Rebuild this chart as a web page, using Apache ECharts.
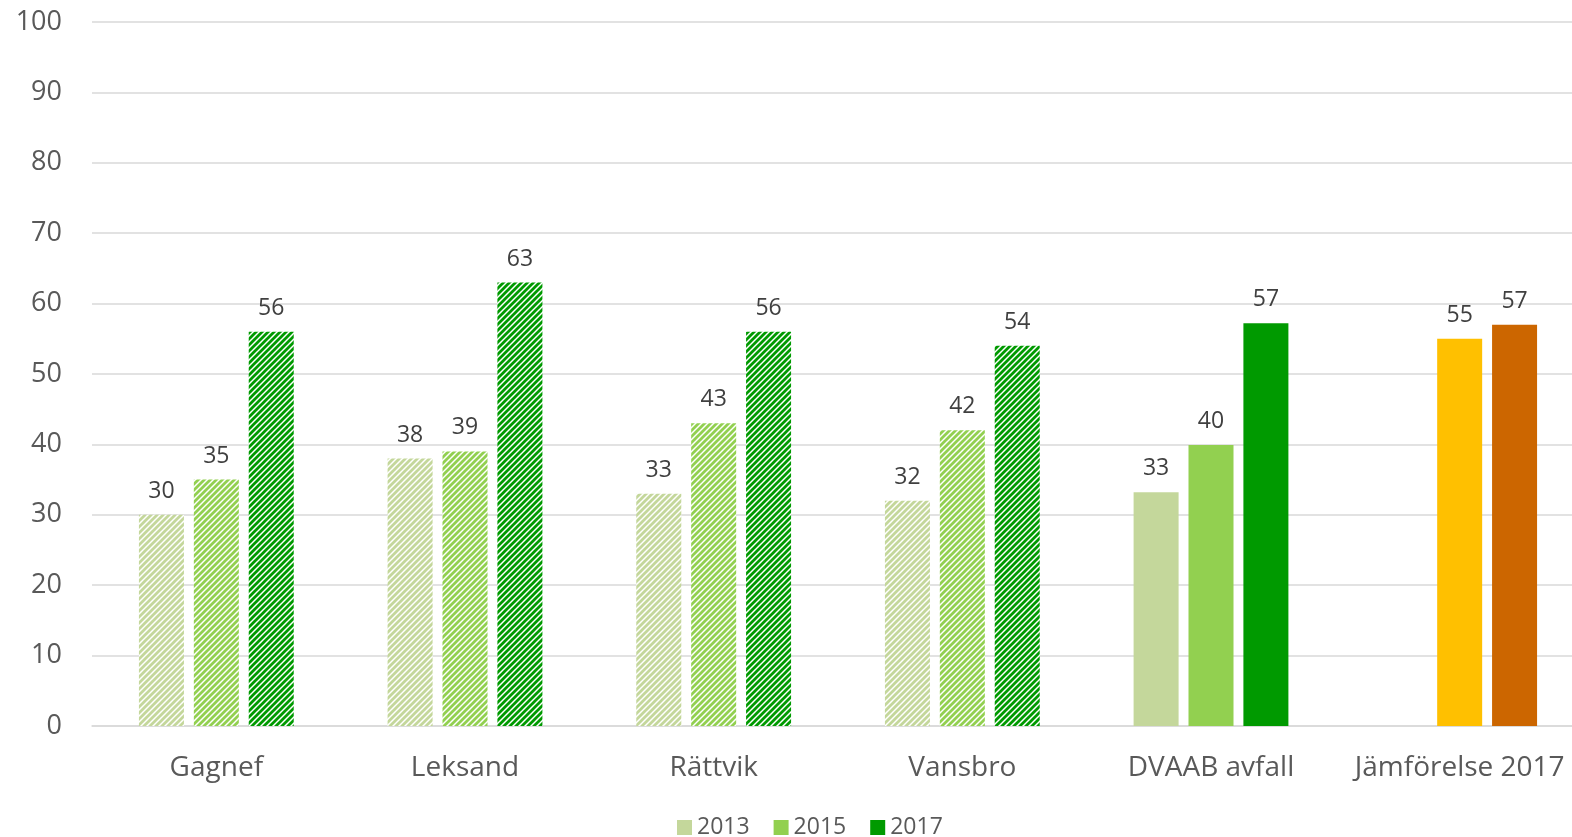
<!DOCTYPE html>
<html><head><meta charset="utf-8">
<script src="https://cdn.jsdelivr.net/npm/echarts@6/dist/echarts.min.js"></script>
<style>html,body{margin:0;padding:0;background:#fff}#c{width:1572px;height:837px}</style>
</head><body><div id="c"></div>
<script>
const categories = ['Gagnef','Leksand','Rättvik','Vansbro','DVAAB avfall','Jämförelse 2017'];
const seriesNames = ['2013','2015','2017'];
const v2013 = [30, 38, 33, 32, 33.2, null];
const v2015 = [35, 39, 43, 42, 39.9, 55];
const v2017 = [56, 63, 56, 54, 57.2, 57];
const yTicks = [0,10,20,30,40,50,60,70,80,90,100];
const hatchedCount = 4;
const colors = ['#C4D79B','#92D050','#009A00'];
const compareColors = [null, '#FFC000', '#CC6600'];

function hatch(color){
  const s = 6;
  const c = document.createElement('canvas');
  c.width = s; c.height = s;
  const g = c.getContext('2d');
  g.fillStyle = '#fff'; g.fillRect(0,0,s,s);
  g.strokeStyle = color; g.lineWidth = 2.8; g.lineCap='square';
  g.beginPath();
  g.moveTo(0,s); g.lineTo(s,0);
  g.moveTo(-s/2,s/2); g.lineTo(s/2,-s/2);
  g.moveTo(s/2,s*1.5); g.lineTo(s*1.5,s/2);
  g.stroke();
  return c;
}

const vals = [v2013, v2015, v2017];
const series = seriesNames.map((name, si) => ({
  name, type: 'bar',
  barWidth: 45, barGap: '22%',
  itemStyle: {color: colors[si]},
  label: {show: true, position: 'top', distance: 12, color: '#404040', fontSize: 23,
    fontFamily: 'Open Sans', formatter: p => Math.round(p.value)},
  data: vals[si].map((v, i) => {
    if (v === null) return null;
    if (i < hatchedCount) return {value: v, itemStyle: {color: {image: hatch(colors[si]), repeat: 'repeat'}}};
    if (i === categories.length - 1 && compareColors[si]) return {value: v, itemStyle: {color: compareColors[si]}};
    return v;
  })
}));

const chart = echarts.init(document.getElementById('c'));
chart.setOption({
  animation: false,
  grid: {left: 92, width: 1492, top: 22, bottom: 111, containLabel: false, outerBoundsMode: 'none'},
  legend: {top: 811, left: 672, itemWidth: 15, itemHeight: 15, itemGap: 24, icon: 'rect',
    textStyle: {fontSize: 23, color: '#595959', fontFamily: 'Open Sans'}, data: seriesNames},
  xAxis: {type: 'category', data: categories,
    axisLine: {lineStyle: {color: '#D9D9D9', width: 1.5}}, axisTick: {show: false},
    axisLabel: {fontSize: 28, color: '#595959', margin: 28, fontFamily: 'Open Sans', interval: 0}},
  yAxis: {type: 'value', min: yTicks[0], max: yTicks[yTicks.length-1], interval: 10,
    axisLine: {show: false}, axisTick: {show: false},
    splitLine: {lineStyle: {color: '#D9D9D9', width: 1.5}},
    axisLabel: {fontSize: 27, color: '#595959', margin: 30, fontFamily: 'Open Sans'}},
  series
});
</script></body></html>
